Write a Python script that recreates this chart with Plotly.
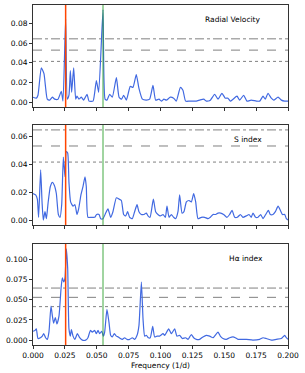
import plotly.graph_objects as go
from plotly.subplots import make_subplots

# Radial velocity periodogram
rv_freq = [0.0000, 0.0026, 0.0039, 0.0065, 0.0086, 0.0097, 0.0112, 0.0131, 0.0152, 0.0170, 0.0196, 0.0222, 0.0235,
           0.0256, 0.0269, 0.0282, 0.0293, 0.0303, 0.0319, 0.0335, 0.0345, 0.0361, 0.0379, 0.0397, 0.0424, 0.0439,
           0.0471, 0.0497, 0.0515, 0.0549, 0.0565, 0.0580, 0.0601, 0.0622, 0.0654, 0.0675, 0.0695, 0.0711, 0.0732,
           0.0763, 0.0784, 0.0810, 0.0831, 0.0858, 0.0889, 0.0915, 0.0941, 0.0962, 0.0988, 0.1007, 0.1027, 0.1046,
           0.1077, 0.1103, 0.1124, 0.1156, 0.1176, 0.1197, 0.1229, 0.1281, 0.1307, 0.1339, 0.1359, 0.1391, 0.1425,
           0.1451, 0.1482, 0.1508, 0.1529, 0.1548, 0.1569, 0.1600, 0.1621, 0.1652, 0.1678, 0.1712, 0.1752, 0.1778,
           0.1804, 0.1822, 0.1843, 0.1869, 0.1888, 0.1922, 0.1948, 0.1974, 0.2000]
rv_power = [0.005, 0.004, 0.007, 0.035, 0.029, 0.017, 0.003, 0.002, 0.005, 0.003, 0.003, 0.011, 0.001,
            0.085, 0.003, 0.007, 0.032, 0.010, 0.035, 0.003, 0.006, 0.003, 0.005, 0.002, 0.008, 0.001,
            0.001, 0.022, 0.010, 0.094, 0.003, 0.002, 0.008, 0.005, 0.025, 0.005, 0.003, 0.007, 0.002,
            0.016, 0.015, 0.028, 0.014, 0.003, 0.002, 0.003, 0.017, 0.002, 0.003, 0.001, 0.003, 0.002,
            0.005, 0.004, 0.001, 0.015, 0.012, 0.001, 0.001, 0.001, 0.002, 0.003, 0.001, 0.002, 0.008,
            0.003, 0.009, 0.004, 0.004, 0.001, 0.003, 0.006, 0.002, 0.007, 0.001, 0.002, 0.001, 0.001,
            0.006, 0.003, 0.009, 0.004, 0.002, 0.005, 0.002, 0.001, 0.001]

# S index periodogram
s_freq = [0.0000, 0.0021, 0.0034, 0.0044, 0.0060, 0.0071, 0.0081, 0.0094, 0.0105, 0.0118, 0.0136, 0.0152, 0.0167,
          0.0183, 0.0199, 0.0212, 0.0225, 0.0238, 0.0251, 0.0261, 0.0272, 0.0282, 0.0295, 0.0314, 0.0329, 0.0345,
          0.0358, 0.0376, 0.0392, 0.0408, 0.0418, 0.0431, 0.0458, 0.0484, 0.0499, 0.0518, 0.0531, 0.0549, 0.0570,
          0.0588, 0.0609, 0.0627, 0.0654, 0.0675, 0.0693, 0.0711, 0.0727, 0.0742, 0.0758, 0.0779, 0.0797, 0.0816,
          0.0831, 0.0850, 0.0868, 0.0889, 0.0902, 0.0918, 0.0944, 0.0962, 0.0980, 0.0999, 0.1020, 0.1038, 0.1051,
          0.1067, 0.1085, 0.1103, 0.1119, 0.1137, 0.1150, 0.1169, 0.1184, 0.1203, 0.1224, 0.1242, 0.1260, 0.1276,
          0.1294, 0.1320, 0.1346, 0.1373, 0.1391, 0.1412, 0.1433, 0.1451, 0.1472, 0.1495, 0.1521, 0.1542, 0.1561,
          0.1582, 0.1603, 0.1626, 0.1647, 0.1673, 0.1694, 0.1712, 0.1725, 0.1746, 0.1765, 0.1786, 0.1804, 0.1825,
          0.1846, 0.1861, 0.1882, 0.1901, 0.1922, 0.1940, 0.1956, 0.1974, 0.1987, 0.2000]
s_power = [0.019, 0.018, 0.015, 0.002, 0.036, 0.013, 0.000, 0.006, 0.001, 0.012, 0.024, 0.027, 0.025,
           0.019, 0.004, 0.002, 0.011, 0.045, 0.031, 0.049, 0.048, 0.027, 0.013, 0.010, 0.011, 0.004,
           0.008, 0.018, 0.024, 0.031, 0.024, 0.002, 0.002, 0.002, 0.004, 0.004, 0.001, 0.001, 0.005,
           0.008, 0.002, 0.006, 0.016, 0.015, 0.014, 0.004, 0.003, 0.006, 0.002, 0.001, 0.006, 0.011,
           0.006, 0.004, 0.004, 0.005, 0.003, 0.002, 0.015, 0.006, 0.004, 0.003, 0.004, 0.002, 0.010,
           0.002, 0.004, 0.002, 0.001, 0.006, 0.018, 0.005, 0.006, 0.013, 0.014, 0.013, 0.019, 0.013,
           0.001, 0.002, 0.002, 0.001, 0.002, 0.004, 0.004, 0.005, 0.005, 0.004, 0.002, 0.004, 0.007,
           0.002, 0.002, 0.004, 0.002, 0.003, 0.004, 0.002, 0.005, 0.002, 0.002, 0.004, 0.001, 0.004,
           0.007, 0.004, 0.004, 0.006, 0.010, 0.007, 0.004, 0.004, 0.001, 0.000]

# H-alpha index periodogram
ha_freq = [0.0000, 0.0016, 0.0026, 0.0039, 0.0058, 0.0073, 0.0084, 0.0099, 0.0112, 0.0125, 0.0141, 0.0152, 0.0162,
           0.0175, 0.0188, 0.0204, 0.0220, 0.0230, 0.0241, 0.0251, 0.0261, 0.0272, 0.0282, 0.0293, 0.0301, 0.0314,
           0.0329, 0.0348, 0.0366, 0.0387, 0.0413, 0.0431, 0.0450, 0.0465, 0.0484, 0.0497, 0.0510, 0.0523, 0.0539,
           0.0552, 0.0562, 0.0580, 0.0596, 0.0609, 0.0622, 0.0638, 0.0654, 0.0669, 0.0685, 0.0701, 0.0719, 0.0737,
           0.0758, 0.0779, 0.0797, 0.0816, 0.0831, 0.0850, 0.0863, 0.0876, 0.0889, 0.0905, 0.0920, 0.0939, 0.0954,
           0.0973, 0.0993, 0.1020, 0.1033, 0.1064, 0.1085, 0.1111, 0.1129, 0.1150, 0.1171, 0.1197, 0.1216, 0.1242,
           0.1260, 0.1281, 0.1307, 0.1333, 0.1359, 0.1386, 0.1412, 0.1451, 0.1469, 0.1490, 0.1516, 0.1542, 0.1569,
           0.1587, 0.1608, 0.1634, 0.1673, 0.1725, 0.1778, 0.1804, 0.1830, 0.1869, 0.1908, 0.1948, 0.1974, 0.1987,
           0.2000]
ha_power = [0.011, 0.012, 0.014, 0.002, 0.003, 0.005, 0.008, 0.003, 0.001, 0.010, 0.042, 0.030, 0.021,
            0.028, 0.020, 0.030, 0.064, 0.077, 0.072, 0.077, 0.113, 0.089, 0.014, 0.005, 0.013, 0.005,
            0.001, 0.008, 0.003, 0.000, 0.000, 0.003, 0.012, 0.010, 0.012, 0.008, 0.012, 0.008, 0.011,
            0.005, 0.010, 0.038, 0.022, 0.006, 0.004, 0.008, 0.005, 0.004, 0.002, 0.001, 0.003, 0.001,
            0.001, 0.003, 0.001, 0.006, 0.018, 0.072, 0.026, 0.005, 0.006, 0.003, 0.003, 0.017, 0.004,
            0.005, 0.005, 0.008, 0.006, 0.014, 0.008, 0.014, 0.005, 0.006, 0.002, 0.003, 0.001, 0.007,
            0.003, 0.001, 0.001, 0.004, 0.006, 0.005, 0.003, 0.010, 0.005, 0.002, 0.001, 0.003, 0.004,
            0.003, 0.001, 0.001, 0.001, 0.000, 0.001, 0.003, 0.002, 0.000, 0.001, 0.002, 0.006, 0.003,
            0.001]

panel_titles = ["Radial Velocity", "S index", "Hα index"]
fap_levels = [0.0645, 0.053, 0.0415]   # dash-dot, dashed, dotted
fap_dashes = ["dashdot", "dash", "dot"]
orange_freq = 0.0256
green_freq = 0.0549
y_ranges = [[-0.005, 0.099], [-0.0035, 0.068], [-0.006, 0.119]]
y_ticks = [[0.00, 0.02, 0.04, 0.06, 0.08], [0.00, 0.02, 0.04, 0.06],
           [0.000, 0.025, 0.050, 0.075, 0.100]]
y_fmt = [".2f", ".2f", ".3f"]
label_pos = [(0.157, 0.084), (0.169, 0.058), (0.167, 0.101)]
x_ticks = [0.000, 0.025, 0.050, 0.075, 0.100, 0.125, 0.150, 0.175, 0.200]

series = [(rv_freq, rv_power), (s_freq, s_power), (ha_freq, ha_power)]

fig = make_subplots(rows=3, cols=1)
domains = [[0.70, 1.0], [0.353, 0.647], [0.0, 0.297]]
font = dict(family="DejaVu Sans", size=7.5, color="black")

for i, (fx, py) in enumerate(series):
    r = i + 1
    for lvl, d in zip(fap_levels, fap_dashes):
        fig.add_trace(go.Scatter(x=[0, 0.2], y=[lvl, lvl], mode="lines",
                                 line=dict(color="gray", width=1, dash=d),
                                 showlegend=False, hoverinfo="skip"), row=r, col=1)
    fig.add_trace(go.Scatter(x=fx, y=py, mode="lines",
                             line=dict(color="royalblue", width=1.2, shape="spline", smoothing=0.5),
                             showlegend=False), row=r, col=1)
    fig.add_trace(go.Scatter(x=[green_freq, green_freq], y=y_ranges[i], mode="lines",
                             line=dict(color="#2ca02c", width=0.9),
                             showlegend=False, hoverinfo="skip"), row=r, col=1)
    fig.add_trace(go.Scatter(x=[orange_freq, orange_freq], y=y_ranges[i], mode="lines",
                             line=dict(color="orangered", width=1.5),
                             showlegend=False, hoverinfo="skip"), row=r, col=1)
    fig.add_annotation(x=label_pos[i][0], y=label_pos[i][1], text=panel_titles[i],
                       showarrow=False, font=font, xref=f"x{'' if r == 1 else r}",
                       yref=f"y{'' if r == 1 else r}")
    fig.update_yaxes(range=y_ranges[i], tickvals=y_ticks[i], tickformat=y_fmt[i],
                     domain=domains[i], row=r, col=1)
    fig.update_xaxes(range=[0, 0.2], tickvals=x_ticks, tickformat=".3f",
                     showticklabels=(r == 3), row=r, col=1)

fig.update_xaxes(title=dict(text="Frequency (1/d)", font=font, standoff=3), row=3, col=1)
fig.update_xaxes(showline=True, mirror=True, linecolor="#333", linewidth=1, ticks="outside",
                 ticklen=3, tickcolor="#333", showgrid=False, zeroline=False, tickfont=font)
fig.update_yaxes(showline=True, mirror=True, linecolor="#333", linewidth=1, ticks="outside",
                 ticklen=3, tickcolor="#333", showgrid=False, zeroline=False, tickfont=font)

fig.update_layout(width=305, height=373, margin=dict(l=33, r=17, t=5, b=28),
                  plot_bgcolor="white", paper_bgcolor="white", font=font)
fig.write_html("out.html", config={"displayModeBar": False},
               post_script="document.body.style.margin='0';")
